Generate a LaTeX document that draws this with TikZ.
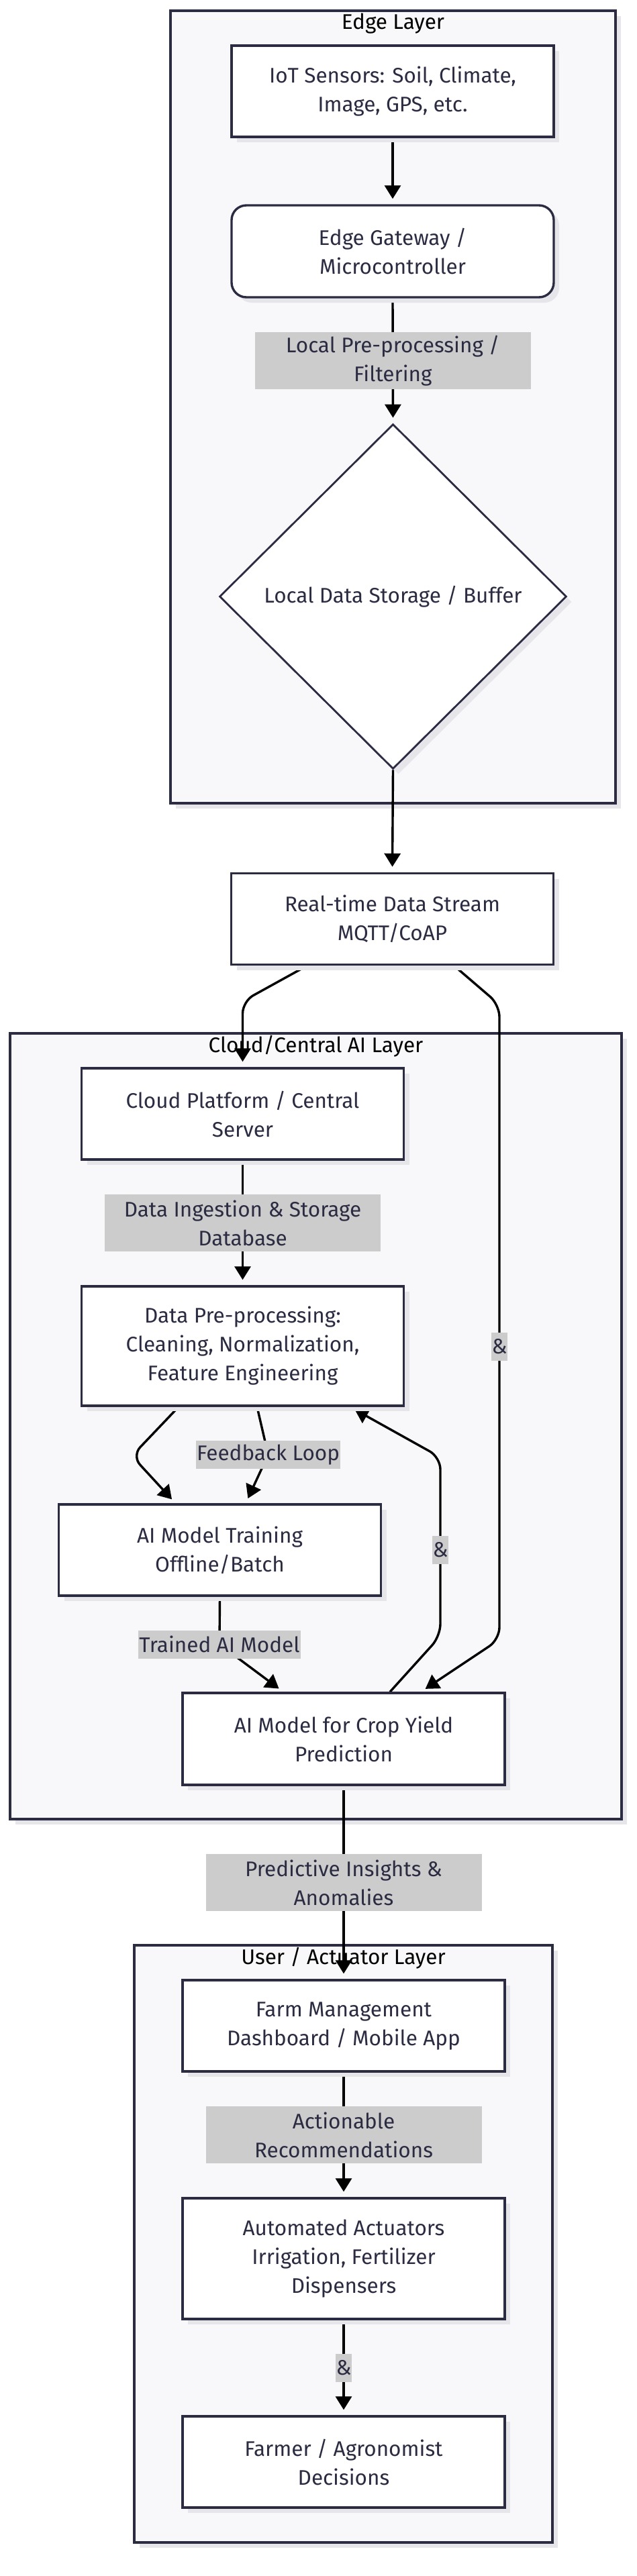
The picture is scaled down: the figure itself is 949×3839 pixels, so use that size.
\documentclass[tikz,border=0pt]{standalone}
\usepackage{xcolor}
\usepackage{tikz}
\usetikzlibrary{arrows.meta,backgrounds,calc,positioning,shadows,shapes.geometric}
\usepackage{fontspec}
\setmainfont{Fira Sans}
\definecolor{ink}{HTML}{2B2B42}
\definecolor{layerbg}{HTML}{F8F8FA}
\definecolor{shade}{HTML}{E6E6EA}
\definecolor{lblgray}{HTML}{CCCCCC}
\pgfdeclarelayer{edges}
\pgfsetlayers{background,edges,main}

\begin{document}
\begin{tikzpicture}[x=1pt,y=-1pt,
  every node/.style={font=\fontsize{31.5}{43}\selectfont},
  shd/.style={drop shadow={shadow xshift=8pt,shadow yshift=-8pt,fill=shade,opacity=1}},
  box/.style={draw=ink,line width=3.4pt,fill=white,text=ink,align=center,inner sep=0pt,
    minimum width=480pt,minimum height=136pt,shd},
  lbl/.style={fill=lblgray,text=ink,align=center,sharp corners,inner xsep=1pt,inner ysep=0pt,minimum height=42pt},
  lblw/.style={minimum width=411pt,minimum height=85pt},
  layer/.style={draw=ink,line width=3.4pt,fill=layerbg,inner sep=0pt,shd},
  ltitle/.style={text=black,inner sep=0pt},
  flow/.style={draw=black,line width=3.4pt,-{Triangle[width=24pt,length=20pt]},
    shorten >=8pt,rounded corners=18pt}]
\begin{scope}[on background layer]
\path[use as bounding box,fill=white] (0,0) rectangle (949,3839);
\node[layer,minimum width=663pt,minimum height=1181pt] (edgeL) at (585.5,606.5) {};
\node[ltitle] (edgeT) at ($(edgeL.north)+(0,21)$) {Edge Layer};
\node[layer,minimum width=911pt,minimum height=1171pt] (cloudL) at (470.5,2125.5) {};
\node[ltitle] (cloudT) at ($(cloudL.north)+(0,21)$) {Cloud/Central AI Layer};
\node[layer,minimum width=623pt,minimum height=890pt] (userL) at (511.5,3344) {};
\node[ltitle] (userT) at ($(userL.north)+(0,21)$) {User / Actuator Layer};
\end{scope}

\node[box] (iot) at (585,136) {IoT Sensors: Soil, Climate,\\Image, GPS, etc.};
\node[box,rounded corners=22pt,minimum height=137pt] (gw) at (585,374.5) {Edge Gateway /\\Microcontroller};
\node[box,diamond,line width=2.8pt,minimum width=517pt,minimum height=514pt] (store) at (585.5,889) {Local Data Storage / Buffer};
\node[box] (stream) at (584.5,1369.5) {Real-time Data Stream\\MQTT/CoAP};
\node[box] (cloud) at (361.5,1660) {Cloud Platform / Central\\Server};
\node[box,minimum height=178pt] (prep) at (361.5,2006) {Data Pre-processing:\\Cleaning, Normalization,\\Feature Engineering};
\node[box] (train) at (327.5,2310) {AI Model Training\\Offline/Batch};
\node[box,minimum height=137pt] (yield) at (512,2591.5) {AI Model for Crop Yield\\Prediction};
\node[box] (farm) at (512,3019) {Farm Management\\Dashboard / Mobile App};
\node[box,minimum height=180pt] (act) at (512,3366) {Automated Actuators\\Irrigation, Fertilizer\\Dispensers};
\node[box] (farmer) at (512,3669) {Farmer / Agronomist\\Decisions};

\node[lbl] (fbk) at (399.5,2168) {Feedback Loop};
\node[lbl] (tam) at (327,2450.5) {Trained AI Model};
\node[lbl] (amp1) at (744,2006.5) {\&};
\node[lbl] (amp2) at (656,2309.5) {\&};

\begin{pgfonlayer}{edges}
\draw[flow] (iot.south) -- (gw.north);
\draw[flow] (gw.south) -- node[lbl,lblw] (pre) {Local Pre-processing /\\Filtering} (store.north);
\draw[flow] (store.south) -- (stream.north);
\draw[flow] ([xshift=-127pt]stream.south) -- ($(stream.south -| cloud.north)+(0,53)$) -- (cloud.north);
\draw[flow] ([xshift=92pt]stream.south) -- ($(amp1 |- stream.south)+(0,58)$)
  -- ($(amp1 |- yield.north)+(0,-78)$) -- ([xshift=115pt]yield.north);
\draw[flow] (cloud.south) -- node[lbl,lblw] (ing) {Data Ingestion \& Storage\\Database} (prep.north);
\draw[flow] ([xshift=-95.5pt]prep.south) -- ($(prep.south)+(-165,73)$) -- ([xshift=-66pt]train.north);
\draw[flow] ([xshift=21.5pt]prep.south) -- (fbk.center) -- ([xshift=38.5pt]train.north);
\draw[flow] (train.south) -- (tam.center) -- ([xshift=-90pt]yield.north);
\draw[flow] ([xshift=69pt]yield.north) -- ($(amp2 |- yield.north)+(0,-83)$)
  -- ($(amp2 |- prep.south)+(0,75)$) -- ([xshift=160pt]prep.south);
\draw[flow] (yield.south) -- node[lbl,lblw] (pia) {Predictive Insights \&\\Anomalies} (farm.north);
\draw[flow] (farm.south) -- node[lbl,lblw] (rec) {Actionable\\Recommendations} (act.north);
\draw[flow] (act.south) -- node[lbl] (amp3) {\&} (farmer.north);
\end{pgfonlayer}
\end{tikzpicture}
\end{document}
